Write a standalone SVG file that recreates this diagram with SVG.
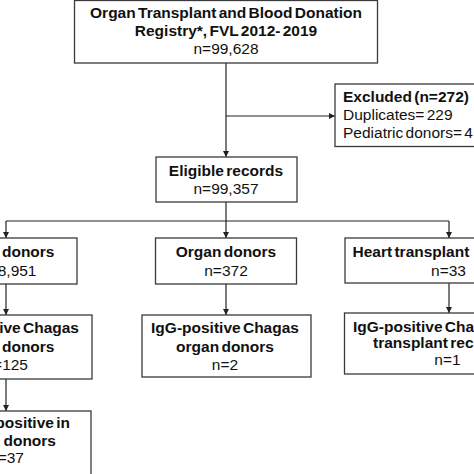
<svg xmlns="http://www.w3.org/2000/svg" width="474" height="474" viewBox="0 0 474 474">
<style>
text{font-family:"Liberation Sans",Arial,sans-serif;font-size:15.5px;fill:#111;word-spacing:-2px}
.b{font-weight:bold}
.m{text-anchor:middle}
.e{text-anchor:end}
.w{word-spacing:4px}
.box{fill:#fff;stroke:#3a3a3a;stroke-width:1.3}
.ln{fill:none;stroke:#222;stroke-width:1.2}
</style>
<defs>
<marker id="ah" markerUnits="userSpaceOnUse" markerWidth="8" markerHeight="8" refX="6" refY="3.5" orient="auto">
<path d="M0,0.5 L6,3.5 L0,6.5 Z" fill="#222"/>
</marker>
</defs>
<rect width="474" height="474" fill="#fff"/>
<g id="connectors">
<line class="ln" x1="226" y1="63" x2="226" y2="157" marker-end="url(#ah)"/>
<line class="ln" x1="226" y1="116" x2="335" y2="116" marker-end="url(#ah)"/>
<line class="ln" x1="226" y1="202" x2="226" y2="221"/>
<line class="ln" x1="6" y1="221" x2="449" y2="221"/>
<line class="ln" x1="6" y1="221" x2="6" y2="238" marker-end="url(#ah)"/>
<line class="ln" x1="226" y1="221" x2="226" y2="238" marker-end="url(#ah)"/>
<line class="ln" x1="449" y1="221" x2="449" y2="238" marker-end="url(#ah)"/>
<line class="ln" x1="6" y1="284" x2="6" y2="315" marker-end="url(#ah)"/>
<line class="ln" x1="6" y1="379" x2="6" y2="411" marker-end="url(#ah)"/>
<line class="ln" x1="226" y1="284" x2="226" y2="315" marker-end="url(#ah)"/>
<line class="ln" x1="449" y1="283" x2="449" y2="313" marker-end="url(#ah)"/>
</g>
<g id="registry">
<rect class="box" x="74.5" y="0.5" width="303" height="62.5"/>
<text class="b m" x="226" y="18">Organ Transplant and Blood Donation</text>
<text class="b m" x="226" y="36">Registry*, FVL 2012- 2019</text>
<text class="m" x="226" y="54">n=99,628</text>
</g>
<g id="excluded">
<rect class="box" x="335" y="84" width="160" height="62.5"/>
<text class="b" x="343" y="101.5">Excluded (n=272)</text>
<text x="343" y="119.5">Duplicates= 229</text>
<text x="343" y="137.5">Pediatric donors= 4</text>
</g>
<g id="eligible">
<rect class="box" x="156" y="157" width="141" height="45"/>
<text class="b m" x="226" y="176">Eligible records</text>
<text class="m" x="226" y="194">n=99,357</text>
</g>
<g id="blood-donors">
<rect class="box" x="-70" y="238" width="147" height="46"/>
<text class="b e w" x="54.5" y="257">Blood donors</text>
<text class="e" x="36.5" y="276">n=98,951</text>
</g>
<g id="organ-donors">
<rect class="box" x="155.5" y="238" width="141" height="46"/>
<text class="b m" x="226" y="257">Organ donors</text>
<text class="m" x="226" y="276">n=372</text>
</g>
<g id="heart-transplant">
<rect class="box" x="345" y="238" width="200" height="45"/>
<text class="b" x="352.5" y="257">Heart transplant</text>
<text class="m" x="448.5" y="275.5">n=33</text>
</g>
<g id="igg-blood">
<rect class="box" x="-70" y="315" width="162" height="64"/>
<text class="b e" x="79" y="333.3">IgG-positive Chagas</text>
<text class="b e w" x="54.5" y="351.7">blood donors</text>
<text class="e" x="28" y="370">n=125</text>
</g>
<g id="igg-organ">
<rect class="box" x="142" y="315" width="169" height="62"/>
<text class="b m" x="225" y="333.3">IgG-positive Chagas</text>
<text class="b m" x="225" y="352">organ donors</text>
<text class="m" x="225" y="370">n=2</text>
</g>
<g id="igg-heart">
<rect class="box" x="344.5" y="313" width="200" height="61"/>
<text class="b" x="353" y="331.7">IgG-positive Chagas</text>
<text class="b" x="373" y="348.3">transplant recipients</text>
<text class="m" x="447.5" y="364.5">n=1</text>
</g>
<g id="positive-blood">
<rect class="box" x="-70" y="411" width="161" height="100"/>
<text class="b e" x="70" y="427.5">positive in</text>
<text class="b e w" x="56" y="445.5">blood donors</text>
<text class="e" x="24" y="463">n=37</text>
</g>
</svg>
